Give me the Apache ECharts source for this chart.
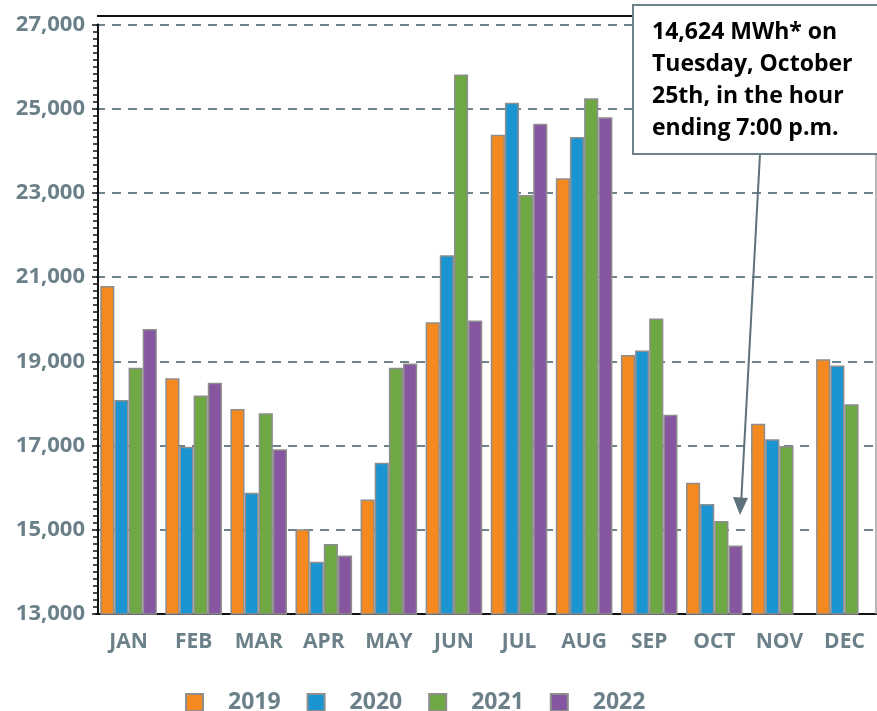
<!DOCTYPE html>
<html>
<head>
<meta charset="utf-8">
<script src="https://cdn.jsdelivr.net/npm/echarts@6/dist/echarts.min.js"></script>
<style>
html,body{margin:0;padding:0;background:#fff;}
#chart{width:877px;height:711px;}
</style>
</head>
<body>
<div id="chart"></div>
<script>
const months = ['JAN','FEB','MAR','APR','MAY','JUN','JUL','AUG','SEP','OCT','NOV','DEC'];
const years = ['2019','2020','2021','2022'];
const y2019 = [20790,18600,17870,15010,15720,19930,24380,23350,19150,16120,17520,19050];
const y2020 = [18080,16970,15880,14240,16590,21520,25140,24330,19260,15610,17150,18900];
const y2021 = [18850,18190,17770,14660,18850,25810,22950,25250,20020,15210,16990,17980];
const y2022 = [19770,18490,16910,14390,18950,19970,24640,24800,17730,14624,null,null];
const colors = ['#F4891F','#1B94D2','#6DA843','#8656A0'];
const noteLines = ['14,624 MWh* on','Tuesday, October','25th, in the hour','ending 7:00 p.m.'];

const FONT = 'Open Sans';
const GREY = '#6B8089';
const seriesData = [y2019, y2020, y2021, y2022];

const chart = echarts.init(document.getElementById('chart'));
chart.setOption({
  animation: false,
  backgroundColor: '#fff',
  grid: {left: 96, top: 24.5, width: 786, bottom: 97, containLabel: false},
  xAxis: {
    type: 'category',
    data: months,
    axisLine: {lineStyle: {color: '#111', width: 2}},
    axisTick: {show: false},
    axisLabel: {color: GREY, fontFamily: FONT, fontWeight: 'bold', fontSize: 21, margin: 18}
  },
  yAxis: {
    type: 'value',
    min: 13000, max: 27000, interval: 2000,
    offset: -2,
    axisLine: {show: true, lineStyle: {color: '#111', width: 2}},
    axisTick: {show: true, inside: false, length: 6, lineStyle: {color: '#111', width: 1.5}},
    minorTick: {show: true, splitNumber: 12, length: 5, lineStyle: {color: '#111', width: 1.5}},
    axisLabel: {
      color: GREY, fontFamily: FONT, fontWeight: 'bold', fontSize: 22, margin: 13,
      formatter: v => v.toLocaleString('en-US')
    },
    splitLine: {show: true, lineStyle: {color: '#6E828A', width: 2, type: [9, 7]}}
  },
  legend: {
    data: years,
    left: 180, top: 686,
    icon: 'rect', itemWidth: 17, itemHeight: 17, itemGap: 26,
    textStyle: {color: GREY, fontFamily: FONT, fontWeight: 'bold', fontSize: 23, padding: [0,0,0,20], lineHeight: 20}
  },
  series: years.map((y, i) => ({
    name: y,
    type: 'bar',
    data: seriesData[i],
    barGap: '0%',
    barCategoryGap: '13%',
    itemStyle: {color: colors[i], borderColor: '#8E8E8E', borderWidth: 1.5}
  })),
  graphic: [
    {type: 'line', shape: {x1: 97, y1: 16, x2: 633, y2: 16}, style: {stroke: '#111', lineWidth: 2}, z: 10},
    {type: 'line', shape: {x1: 876, y1: 16, x2: 876, y2: 614}, style: {stroke: '#A0A0A0', lineWidth: 1.5}, z: 10},
    {type: 'line', shape: {x1: 760, y1: 154, x2: 741, y2: 505}, style: {stroke: '#5E727B', lineWidth: 2}, z: 20},
    {type: 'polygon', shape: {points: [[733, 497], [748, 498], [740, 515]]}, style: {fill: '#5E727B'}, z: 20},
    {type: 'rect', shape: {x: 633, y: 5, width: 250, height: 149}, style: {fill: '#fff', stroke: '#6E828A', lineWidth: 2}, z: 20},
    ...noteLines.map((t, i) => ({
      type: 'text', left: 652, top: 21 + i * 32, z: 21,
      style: {text: t, fill: '#000', font: 'bold 23px "Open Sans"'}
    }))
  ]
});
</script>
</body>
</html>
